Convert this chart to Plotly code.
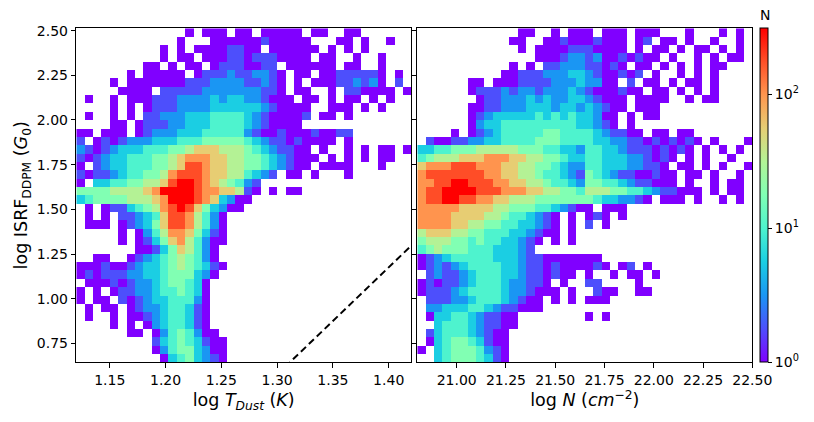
import numpy as np
import plotly.graph_objects as go

# axis ranges of the two panels
tdust_range = [1.12, 1.42]       # log T_Dust (K)
column_range = [20.80, 22.50]    # log N (cm^-2)
isrf_range = [0.644, 2.513]      # log ISRF_DDPM (G0)

# 2D histograms on a 40 x 40 grid, top row first.
# '.' = empty bin, '0'..'9','A' = count level, N = 10**(level/4)
tdust_hist = [
    ".............0.000.0" + "0.00000.00..00......",
    "............0...0000" + "00100000...00.0..0..",
    "..........0.0.000011" + "00.000000.0.0.0.....",
    "..........0.00.00011" + "01110000.00..0..0...",
    "........00.0.00.0111" + "0011.000000.00..0...",
    "......0.00000.011121" + "12210.00.00111110.0.",
    "....0.00000001112222" + "11210.0.000112120.1.",
    ".....0000.1111122222" + "22110.00..0.110000.0",
    ".0..0.00011122223233" + "221000.00.0.00.0.0..",
    "....0.0.011122223333" + "33210000..000.0.0...",
    ".0..0.0.112223334444" + "32100001.00.0.......",
    "....00.0111223334444" + "3210000.............",
    "00.000.0122233344444" + "2100100010011.......",
    "1.010122233344455555" + "43211010000.0.......",
    "21012333444556777666" + "54321100.0..0.0.00.0",
    "10123344455678887766" + "554321000.0.0.0.00..",
    "0.123344455679987766" + "55432100.0000...0...",
    "10112344556899987766" + "4321.00.0...0.......",
    "0.3344556679AA987654" + "21..................",
    "5555666678AAAA988776" + "10.0.00.............",
    "34555566678AAA987320" + "0...................",
    ".0.011345689A9753200" + "....................",
    ".0.0.1123479986420.." + "....................",
    ".000.0123579986420.." + "....................",
    ".....0.02468875310.." + "....................",
    ".....0.01357864200.." + "....................",
    ".......0013576420..." + "....................",
    "..00..01234565420..." + "....................",
    "000100123345654310.." + "....................",
    "01011122334555320..." + "....................",
    ".000101223455430...." + "....................",
    "0.0.011223445430...." + "....................",
    "0.00.10123344420...." + "....................",
    ".0.00.0122344310...." + "....................",
    ".0..0.0012344310...." + "....................",
    "....0.0.02344310...." + "....................",
    "......00.02454200..." + "....................",
    ".........134543100.." + "....................",
    ".........024553200.." + "....................",
    "..........03453210.." + "....................",
]

column_hist = [
    "............00..0.00" + "0.000.000...0...0.0.",
    "...........00..00100" + "01000.01.00.0..0..0.",
    "............0.000011" + "10000.0.00.0.00.0.0.",
    "..............000122" + "120010100.0..0.0.00.",
    "...........0.0.11222" + "11010.00.0.0.0.00...",
    "..........0011122233" + "2100101.0..0.0.0....",
    "......00.00011112223" + "2200.1.00.0.00.0....",
    "......01112122122232" + "1000100.00.0.0.0....",
    ".......0112223232233" + "21000.0000..0.00....",
    "......00112223332332" + "32100.000...........",
    "......01233333434343" + "3200.0.00...........",
    "......02334444444443" + "3210.0..............",
    "....0.01234444455444" + "4321100.00.00.......",
    ".1001122334444555444" + "43322110101010.0...0",
    "33445556666655544332" + "4433211101010.0.0.0.",
    "45666777888776655433" + "44333221010.0.0..0..",
    "78889998887766554322" + "4433322110.00.0.0..0",
    "89999999887766544321" + "54321100100.00.0..0.",
    "8899AA99988776654432" + "55443211000.0..0.00.",
    "899AAAA9998887766554" + "66655443211000.0.00.",
    "899AA998877666555555" + "54332210.000.0..0.0.",
    "88888777766555443210" + "0.000...............",
    "88887777665443210.0." + "010.0...............",
    "88887766554433210.0." + "1.0.................",
    "67776655444332100.0." + "....................",
    "566655454433210.0.0." + "....................",
    "45655544433321......" + "....................",
    "01234444433321100000" + "00..................",
    "01212344443321101000" + "010.01.0............",
    ".121123444332110100." + "0..0.00.0...........",
    "0101123444322110.0.." + "11....0.............",
    "01112344443221000.0." + ".100..00............",
    ".11122344432100.0.0." + "000.................",
    ".22333443211000....." + "....................",
    ".03344321100........" + "0.0.................",
    "..3444321100........" + "....................",
    ".1344432100........." + "....................",
    ".0345543100........." + "....................",
    "0.345554210........." + "....................",
    "..345554310........." + "....................",
]

# dashed reference line: log G0 = 6 log(T / 16 K)
line_logT = [1.30, 1.42]
line_slope = 6.0
line_T0 = 16.0

# colour scale limits (N from 1 to ~310)
n_max = 310
cbar_ticks = [0, 1, 2]

levels = "0123456789A"
nbins = 40


def decode(rows):
    # level characters -> log10(N), None for empty bins
    z = []
    for row in rows:
        row = row.ljust(nbins, ".")[:nbins]
        z.append([None if ch == "." else levels.index(ch) / 4 for ch in row])
    return z


def centers(lo, hi, n):
    step = (hi - lo) / n
    return [lo + (i + 0.5) * step for i in range(n)]


y_centers = centers(isrf_range[0], isrf_range[1], nbins)[::-1]

# matplotlib "rainbow"
rainbow = [
    [0.0, "rgb(128,0,255)"], [0.1, "rgb(77,79,252)"], [0.2, "rgb(26,150,243)"],
    [0.3, "rgb(26,206,227)"], [0.4, "rgb(77,243,206)"], [0.5, "rgb(128,255,180)"],
    [0.6, "rgb(179,243,150)"], [0.7, "rgb(230,206,116)"], [0.8, "rgb(255,150,79)"],
    [0.9, "rgb(255,79,40)"], [1.0, "rgb(255,0,0)"],
]

W, H = 814, 422
panel_top, panel_bottom = 28.3, 362.3   # pixel rows of the panel frames

fig = go.Figure()

fig.add_trace(go.Heatmap(
    x=centers(tdust_range[0], tdust_range[1], nbins), y=y_centers,
    z=decode(tdust_hist), coloraxis="coloraxis", hoverongaps=False,
    xaxis="x", yaxis="y",
))
fig.add_trace(go.Heatmap(
    x=centers(column_range[0], column_range[1], nbins), y=y_centers,
    z=decode(column_hist), coloraxis="coloraxis", hoverongaps=False,
    xaxis="x2", yaxis="y2",
))

line_logG = [line_slope * (t - np.log10(line_T0)) for t in line_logT]
fig.add_trace(go.Scatter(
    x=line_logT, y=line_logG, mode="lines", showlegend=False,
    line=dict(color="black", width=2, dash="7px,4px"),
    xaxis="x", yaxis="y",
))

axis_style = dict(
    showline=True, linecolor="black", linewidth=1, mirror=True,
    ticks="outside", ticklen=4.5, tickwidth=1, tickcolor="black",
    showgrid=False, zeroline=False, automargin=False,
    tickfont=dict(size=14, color="black"),
)
ydom = [(H - panel_bottom) / H, (H - panel_top) / H]

fig.update_layout(
    width=W, height=H,
    margin=dict(l=0, r=0, t=0, b=0, autoexpand=False),
    paper_bgcolor="white", plot_bgcolor="white",
    font=dict(family="DejaVu Sans", color="black"),
    showlegend=False,
    coloraxis=dict(
        colorscale=rainbow, cmin=0, cmax=np.log10(n_max),
        colorbar=dict(
            x=760 / W, xanchor="left", xpad=0,
            y=ydom[0], yanchor="bottom", ypad=0,
            len=ydom[1] - ydom[0], lenmode="fraction",
            thickness=8.3, thicknessmode="pixels",
            outlinewidth=1, outlinecolor="black",
            tickvals=cbar_ticks, ticktext=[f"10<sup>{e}</sup>" for e in cbar_ticks],
            ticks="outside", ticklen=4, tickcolor="black",
            tickfont=dict(size=14, color="black"),
        ),
    ),
    annotations=[dict(
        text="N", x=764.5 / W, y=(H - 15) / H, xref="paper", yref="paper",
        xanchor="center", yanchor="middle",
        showarrow=False, font=dict(size=14, color="black"),
    )],
    xaxis=dict(
        domain=[76.3 / W, 411 / W], range=tdust_range, anchor="y",
        tick0=1.0, dtick=0.05, tickformat=".2f",
        title=dict(text="log <i>T</i><sub><i>Dust</i></sub> (<i>K</i>)",
                   font=dict(size=17.5), standoff=7),
        **axis_style,
    ),
    yaxis=dict(
        domain=ydom, range=isrf_range, anchor="x",
        tick0=0, dtick=0.25, tickformat=".2f",
        title=dict(text="log ISRF<sub>DDPM</sub> (<i>G</i><sub>0</sub>)",
                   font=dict(size=17.5), standoff=4),
        **axis_style,
    ),
    xaxis2=dict(
        domain=[417.3 / W, 752.3 / W], range=column_range, anchor="y2",
        tick0=0, dtick=0.25, tickformat=".2f",
        title=dict(text="log <i>N</i> (<i>cm</i><sup>\u22122</sup>)",
                   font=dict(size=17.5), standoff=7),
        **axis_style,
    ),
    yaxis2=dict(
        domain=ydom, range=isrf_range, anchor="x2",
        tick0=0, dtick=0.25, showticklabels=False,
        **axis_style,
    ),
)

# the page body has a default 8px margin; drop it so the figure fills the window
fig.write_html(
    "out.html",
    config={"displayModeBar": False},
    post_script="document.body.style.margin = '0';",
)
